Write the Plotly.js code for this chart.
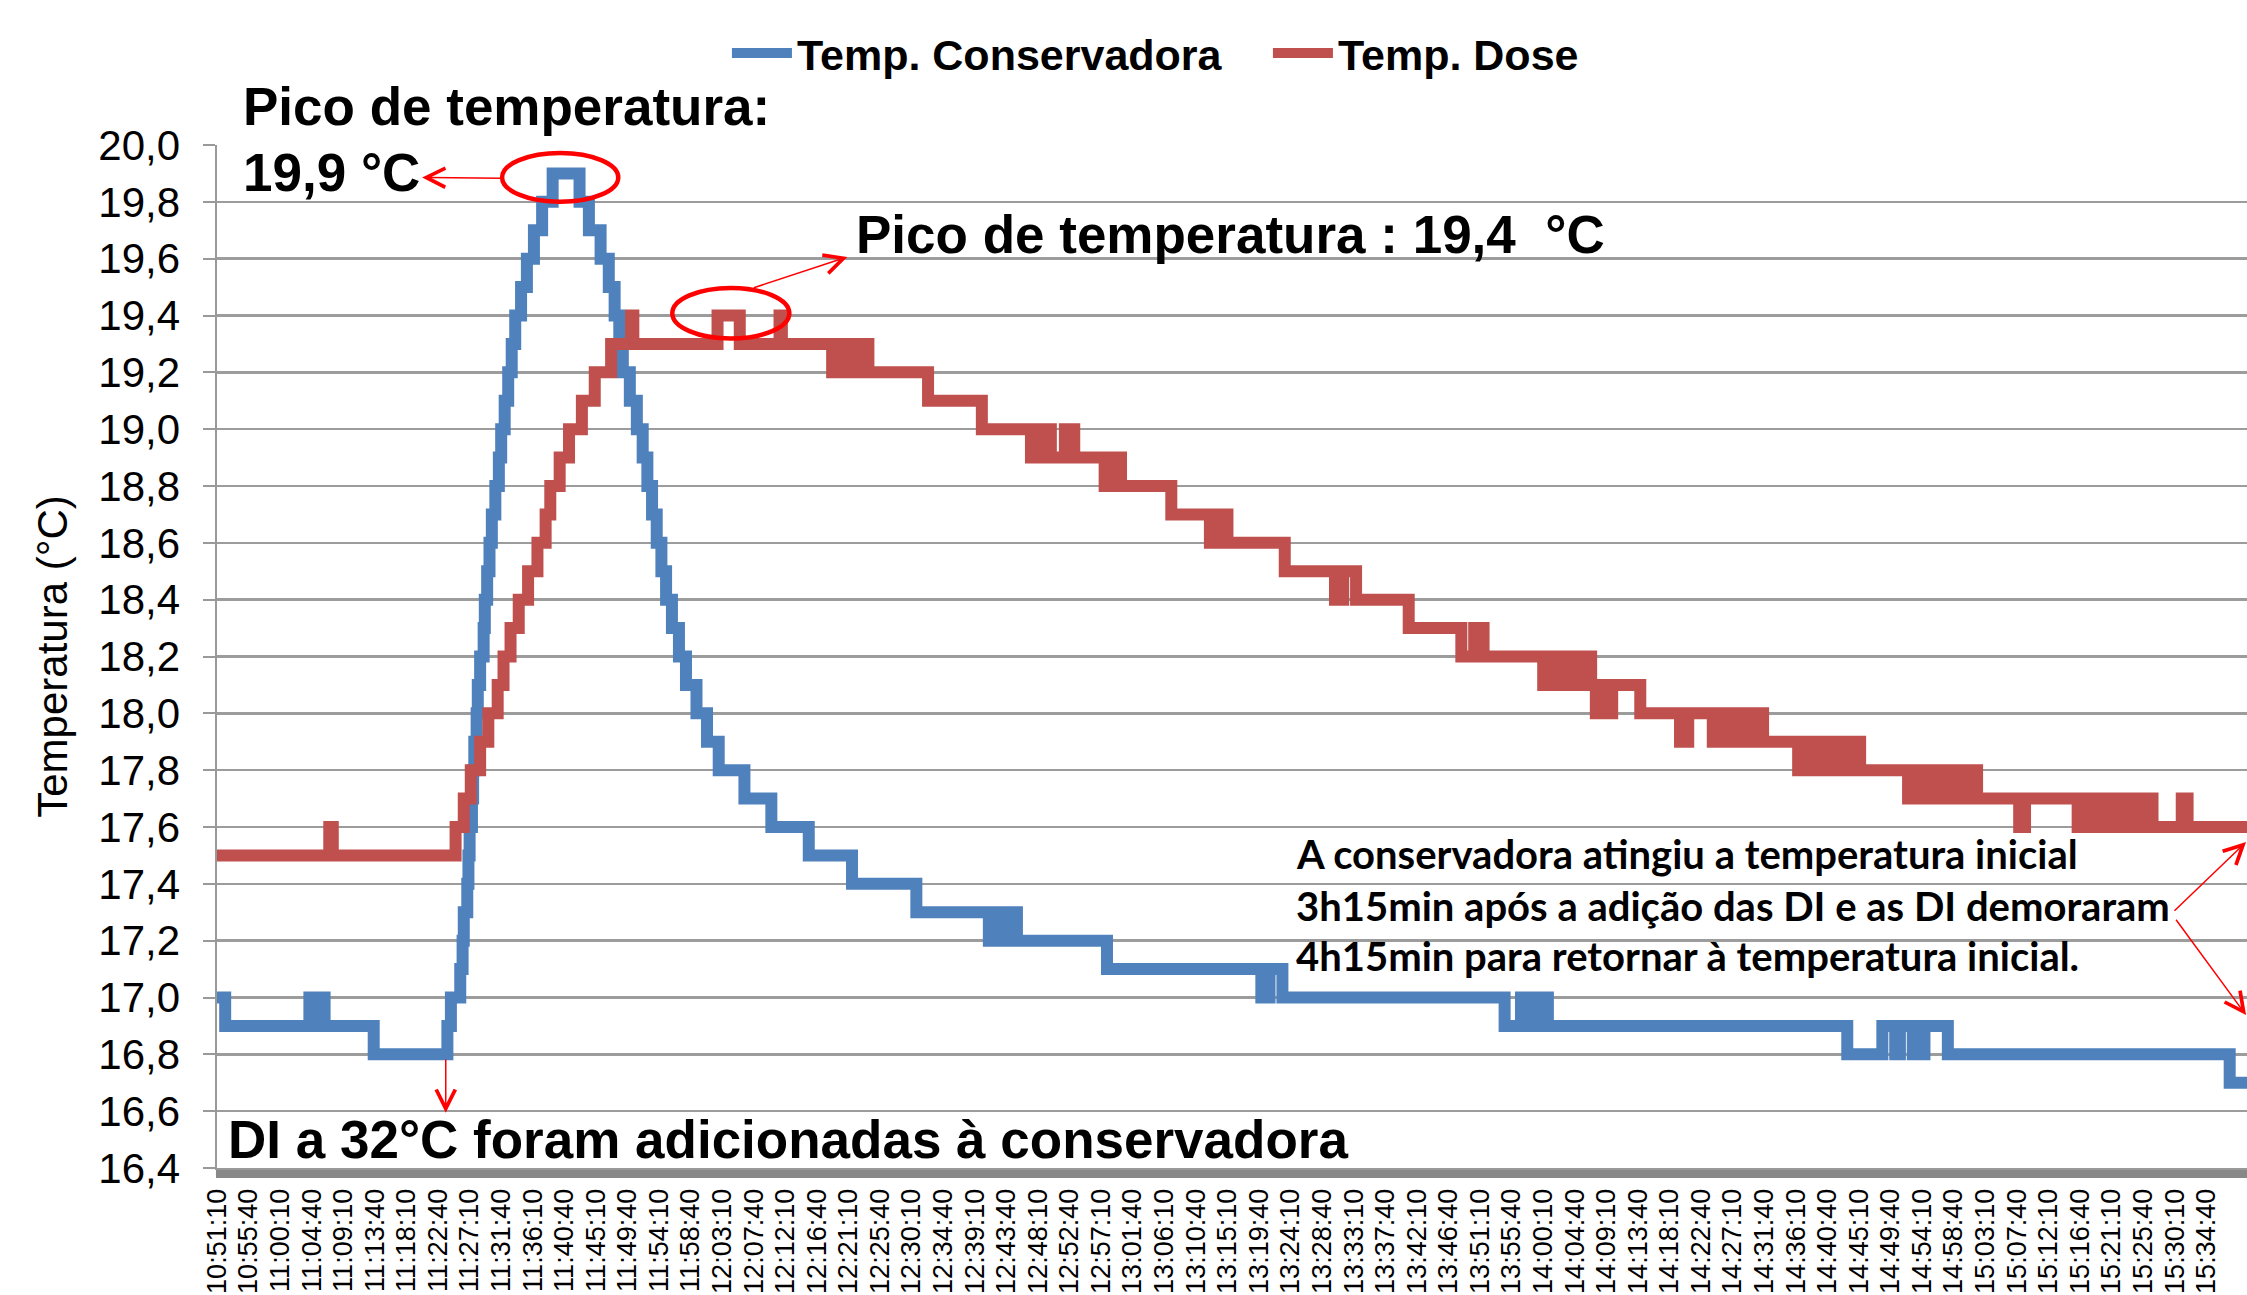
<!DOCTYPE html>
<html>
<head>
<meta charset="utf-8">
<script src="https://cdn.plot.ly/plotly-3.0.1.min.js"></script>
<style>html,body{margin:0;padding:0;background:#fff;}#chart{width:2247px;height:1295px;}</style>
</head>
<body>
<div id="chart"></div>
<script>
// ---- Data (time of each change, new value) ----
const conservadoraTimes = ["10:51:10","10:52:20","11:04:20","11:05:30","11:05:50","11:06:30","11:13:30","11:24:00","11:24:30","11:25:50","11:26:10","11:26:20","11:26:50","11:27:00","11:27:10","11:27:30","11:27:40","11:27:50","11:28:10","11:28:20","11:28:40","11:29:10","11:29:20","11:29:40","11:30:00","11:30:20","11:30:50","11:31:20","11:31:40","11:32:10","11:32:40","11:33:10","11:33:40","11:34:30","11:35:20","11:36:20","11:37:30","11:39:00","11:42:50","11:44:10","11:45:50","11:47:00","11:47:50","11:48:30","11:49:00","11:50:00","11:51:00","11:51:50","11:52:30","11:53:10","11:53:50","11:54:30","11:55:10","11:56:00","11:57:00","11:58:00","11:59:30","12:01:00","12:02:40","12:06:20","12:10:10","12:15:30","12:21:40","12:30:50","12:41:10","12:42:20","12:43:10","12:44:10","12:45:10","12:58:00","13:20:00","13:21:10","13:23:00","13:54:40","13:57:00","13:58:40","13:59:30","14:00:50","14:43:30","14:48:30","14:50:20","14:51:00","14:52:50","14:54:30","14:57:50","15:38:00","15:40:30"];
const conservadoraValues = [17.0,16.9,17.0,16.9,17.0,16.9,16.8,16.9,17.0,17.1,17.2,17.3,17.4,17.5,17.6,17.7,17.8,17.9,18.0,18.1,18.2,18.3,18.4,18.5,18.6,18.7,18.8,18.9,19.0,19.1,19.2,19.3,19.4,19.5,19.6,19.7,19.8,19.9,19.8,19.7,19.6,19.5,19.4,19.3,19.2,19.1,19.0,18.9,18.8,18.7,18.6,18.5,18.4,18.3,18.2,18.1,18.0,17.9,17.8,17.7,17.6,17.5,17.4,17.3,17.2,17.3,17.2,17.3,17.2,17.1,17.0,17.1,17.0,16.9,17.0,16.9,17.0,16.9,16.8,16.9,16.8,16.9,16.8,16.9,16.8,16.7,16.7];

const doseTimes = ["10:51:10","11:07:10","11:07:40","11:25:10","11:26:20","11:27:20","11:28:40","11:29:50","11:31:10","11:32:00","11:33:00","11:34:10","11:35:30","11:36:50","11:38:00","11:38:40","11:40:00","11:41:20","11:43:10","11:45:00","11:47:20","11:50:10","11:50:30","12:02:30","12:05:40","12:11:20","12:11:40","12:18:50","12:19:50","12:20:30","12:21:30","12:22:30","12:23:00","12:24:00","12:32:30","12:40:10","12:47:10","12:48:30","12:50:00","12:52:00","12:53:20","12:57:40","12:59:10","13:00:00","13:07:10","13:12:40","13:13:50","13:15:10","13:23:20","13:30:30","13:31:40","13:33:30","13:41:00","13:48:30","13:50:20","13:51:40","14:00:10","14:00:50","14:01:30","14:02:10","14:02:50","14:03:20","14:04:10","14:05:50","14:07:00","14:07:40","14:09:00","14:09:30","14:10:00","14:14:00","14:19:40","14:20:50","14:24:20","14:25:20","14:26:10","14:27:00","14:27:50","14:28:50","14:29:40","14:30:40","14:31:30","14:36:30","14:37:30","14:38:30","14:39:40","14:40:30","14:41:30","14:42:30","14:42:50","14:43:30","14:44:50","14:45:20","14:52:10","14:52:40","14:53:30","14:54:10","14:55:20","14:56:00","14:56:40","14:57:20","14:58:10","14:58:30","14:59:20","15:00:20","15:02:00","15:08:00","15:08:50","15:16:20","15:17:00","15:17:40","15:18:20","15:19:10","15:19:50","15:20:30","15:21:10","15:22:00","15:22:40","15:23:10","15:24:00","15:24:40","15:25:20","15:25:50","15:26:20","15:27:00","15:31:10","15:32:00","15:40:30"];
const doseValues = [17.5,17.6,17.5,17.6,17.7,17.8,17.9,18.0,18.1,18.2,18.3,18.4,18.5,18.6,18.7,18.8,18.9,19.0,19.1,19.2,19.3,19.4,19.3,19.4,19.3,19.4,19.3,19.2,19.3,19.2,19.3,19.2,19.3,19.2,19.1,19.0,18.9,19.0,18.9,19.0,18.9,18.8,18.9,18.8,18.7,18.6,18.7,18.6,18.5,18.4,18.5,18.4,18.3,18.2,18.3,18.2,18.1,18.2,18.1,18.2,18.1,18.2,18.1,18.2,18.1,18.0,18.1,18.0,18.1,18.0,17.9,18.0,17.9,18.0,17.9,18.0,17.9,18.0,17.9,18.0,17.9,17.8,17.9,17.8,17.9,17.8,17.9,17.8,17.9,17.8,17.9,17.8,17.7,17.8,17.7,17.8,17.7,17.8,17.7,17.8,17.7,17.8,17.7,17.8,17.7,17.6,17.7,17.6,17.7,17.6,17.7,17.6,17.7,17.6,17.7,17.6,17.7,17.6,17.7,17.6,17.7,17.6,17.7,17.6,17.7,17.6,17.6];

const seriesNames = ["Temp. Conservadora", "Temp. Dose"];
const seriesColors = ["#4F81BD", "#C0504D"];
const axisStart = "10:51:10";
const axisEnd = "15:40:28";
const yMin = 16.4, yMax = 20.0, yStep = 0.2;
const labelStepSeconds = 270;

// ---- Build ----
const D = t => "2000-01-01 " + t;
const ARIAL = "Liberation Sans, Arial, sans-serif";
const CALIBRI = "Lato, Carlito, Calibri, sans-serif";

const traces = [
  {x: conservadoraTimes.map(D), y: conservadoraValues, name: seriesNames[0], type: "scatter", mode: "lines",
   line: {color: seriesColors[0], width: 12, shape: "hv"}},
  {x: doseTimes.map(D), y: doseValues, name: seriesNames[1], type: "scatter", mode: "lines",
   line: {color: seriesColors[1], width: 12, shape: "hv"}}
];

const RED = "#FF0000";
const annotations = [
  {xref: "paper", yref: "paper", x: 0.0118, y: 1.0372, xanchor: "left", yanchor: "middle", showarrow: false,
   text: "<b>Pico de temperatura:</b>", font: {family: ARIAL, size: 53, color: "#000"}},
  {xref: "paper", yref: "paper", x: 0.0118, y: 0.9736, xanchor: "left", yanchor: "middle", showarrow: false,
   text: "<b>19,9 °C</b>", font: {family: ARIAL, size: 53, color: "#000"}},
  {xref: "paper", yref: "paper", x: 0.3138, y: 0.9130, xanchor: "left", yanchor: "middle", showarrow: false,
   text: "<b>Pico de temperatura : 19,4 \u00a0°C</b>", font: {family: ARIAL, size: 53, color: "#000"}},
  {xref: "paper", yref: "paper", x: 0.0044, y: 0.0283, xanchor: "left", yanchor: "middle", showarrow: false,
   text: "<b>DI a 32°C foram adicionadas à conservadora</b>", font: {family: ARIAL, size: 53, color: "#000"}},
  {xref: "paper", yref: "paper", x: 0.5305, y: 0.3069, xanchor: "left", yanchor: "middle", showarrow: false,
   text: "<b>A conservadora atingiu a temperatura inicial</b>", font: {family: CALIBRI, size: 40, color: "#000"}},
  {xref: "paper", yref: "paper", x: 0.5305, y: 0.2561, xanchor: "left", yanchor: "middle", showarrow: false,
   text: "<b>3h15min após a adição das DI e as DI demoraram</b>", font: {family: CALIBRI, size: 40, color: "#000"}},
  {xref: "paper", yref: "paper", x: 0.5305, y: 0.2072, xanchor: "left", yanchor: "middle", showarrow: false,
   text: "<b>4h15min para retornar à temperatura inicial.</b>", font: {family: CALIBRI, size: 40, color: "#000"}},
  // arrows
  {xref: "x", yref: "y", axref: "x", ayref: "y", x: D("11:20:24"), y: 19.886, ax: D("11:31:48"), ay: 19.883, text: "",
   showarrow: true, arrowhead: 5, arrowsize: 2.5, arrowwidth: 1.5, arrowcolor: RED, standoff: 0, startstandoff: 0},
  {xref: "x", yref: "y", axref: "x", ayref: "y", x: D("12:21:00"), y: 19.606, ax: D("12:07:27"), ay: 19.496, text: "",
   showarrow: true, arrowhead: 5, arrowsize: 2.5, arrowwidth: 1.5, arrowcolor: RED, standoff: 0, startstandoff: 0},
  {xref: "x", yref: "y", axref: "x", ayref: "y", x: D("11:23:46"), y: 16.594, ax: D("11:23:46"), ay: 16.787, text: "",
   showarrow: true, arrowhead: 5, arrowsize: 2.5, arrowwidth: 1.5, arrowcolor: RED, standoff: 0, startstandoff: 0},
  {xref: "x", yref: "y", axref: "x", ayref: "y", x: D("15:40:20"), y: 17.547, ax: D("15:29:55"), ay: 17.300, text: "",
   showarrow: true, arrowhead: 5, arrowsize: 2.5, arrowwidth: 1.5, arrowcolor: RED, standoff: 0, startstandoff: 0},
  {xref: "x", yref: "y", axref: "x", ayref: "y", x: D("15:40:20"), y: 16.938, ax: D("15:30:12"), ay: 17.279, text: "",
   showarrow: true, arrowhead: 5, arrowsize: 2.5, arrowwidth: 1.5, arrowcolor: RED, standoff: 0, startstandoff: 0}
];

const shapes = [
  {type: "circle", xref: "x", yref: "y", x0: D("11:31:48"), x1: D("11:48:21"), y0: 19.80, y1: 19.972,
   line: {color: RED, width: 4.5}},
  {type: "circle", xref: "x", yref: "y", x0: D("11:56:03"), x1: D("12:12:44"), y0: 19.319, y1: 19.497,
   line: {color: RED, width: 4.5}}
];

const layout = {
  width: 2247, height: 1295,
  margin: {l: 217, r: 0, t: 145, b: 127, pad: 0},
  paper_bgcolor: "#fff", plot_bgcolor: "#fff",
  separators: ", ",
  showlegend: true,
  legend: {orientation: "h", x: 0.2512, xanchor: "left", y: 1.09, yanchor: "middle",
           itemwidth: 60, entrywidth: 466, entrywidthmode: "pixels",
           font: {family: ARIAL, size: 43, color: "#000", weight: "bold"}, bgcolor: "rgba(0,0,0,0)"},
  xaxis: {
    type: "date",
    range: [D(axisStart), D(axisEnd)],
    tickmode: "linear", tick0: D(axisStart), dtick: labelStepSeconds * 1000,
    tickformat: "%H:%M:%S", tickangle: -90,
    tickfont: {family: ARIAL, size: 27, color: "#000"},
    ticks: "outside", ticklen: 8, tickwidth: 1.2, tickcolor: "#888",
    minor: {ticks: "outside", dtick: 10000, tick0: D(axisStart), ticklen: 8, tickwidth: 1.2, tickcolor: "#888", showgrid: false},
    showgrid: false, zeroline: false,
    showline: true, linecolor: "#999", linewidth: 2,
    fixedrange: true
  },
  yaxis: {
    range: [yMin, yMax], tickmode: "linear", tick0: yMin, dtick: yStep,
    tickformat: ".1f",
    tickfont: {family: ARIAL, size: 42, color: "#000"},
    ticks: "outside", ticklen: 12, tickwidth: 2, tickcolor: "#999",
    ticklabelstandoff: 14,
    showgrid: true, gridcolor: "#9c9c9c", gridwidth: 2.5,
    zeroline: false, showline: true, linecolor: "#999", linewidth: 2.5,
    title: {text: "Temperatura (°C)", font: {family: ARIAL, size: 42, color: "#000"}, standoff: 18},
    fixedrange: true
  },
  annotations: annotations,
  shapes: shapes
};

Plotly.newPlot("chart", traces, layout, {staticPlot: true, displayModeBar: false});
</script>
</body>
</html>
